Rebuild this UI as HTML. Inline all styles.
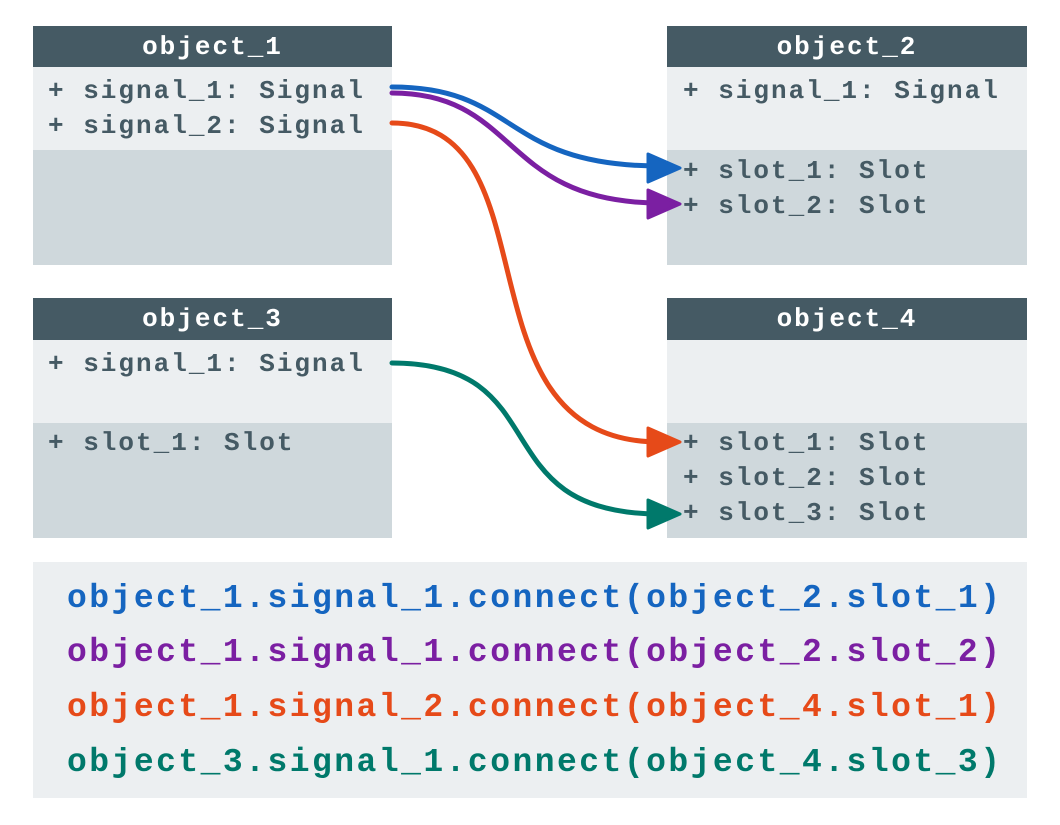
<!DOCTYPE html>
<html><head><meta charset="utf-8"><style>
body{margin:0;width:1060px;height:825px;background:#fff;position:relative;overflow:hidden;font-family:"Liberation Mono","Courier New",monospace;font-weight:bold}
.b{position:absolute}
.h{background:#455a64;color:#fff;text-align:center;font-size:26px;letter-spacing:2px;line-height:42px}
.l{background:#eceff1}.d{background:#cfd8dc}
.t{position:absolute;color:#455a64;font-size:26px;letter-spacing:2px;white-space:pre;line-height:35px}
.c{position:absolute;left:67px;font-size:33px;letter-spacing:2.47px;white-space:pre;line-height:40px}
</style></head><body>
<div class="b h" style="left:33px;top:26px;width:359px;height:41px">object_1</div>
<div class="b l" style="left:33px;top:67px;width:359px;height:83px"></div>
<div class="b d" style="left:33px;top:150px;width:359px;height:115px"></div>
<div class="t" style="left:48px;top:74px">+ signal_1: Signal
+ signal_2: Signal</div>

<div class="b h" style="left:667px;top:26px;width:360px;height:41px">object_2</div>
<div class="b l" style="left:667px;top:67px;width:360px;height:83px"></div>
<div class="b d" style="left:667px;top:150px;width:360px;height:115px"></div>
<div class="t" style="left:683px;top:74px">+ signal_1: Signal</div>
<div class="t" style="left:683px;top:154px">+ slot_1: Slot
+ slot_2: Slot</div>

<div class="b h" style="left:33px;top:298px;width:359px;height:42px">object_3</div>
<div class="b l" style="left:33px;top:340px;width:359px;height:83px"></div>
<div class="b d" style="left:33px;top:423px;width:359px;height:115px"></div>
<div class="t" style="left:48px;top:347px">+ signal_1: Signal</div>
<div class="t" style="left:48px;top:426px">+ slot_1: Slot</div>

<div class="b h" style="left:667px;top:298px;width:360px;height:42px">object_4</div>
<div class="b l" style="left:667px;top:340px;width:360px;height:83px"></div>
<div class="b d" style="left:667px;top:423px;width:360px;height:115px"></div>
<div class="t" style="left:683px;top:426px">+ slot_1: Slot
+ slot_2: Slot
+ slot_3: Slot</div>

<div class="b l" style="left:33px;top:562px;width:994px;height:236px"></div>
<div class="c" style="top:579px;color:#1565c0">object_1.signal_1.connect(object_2.slot_1)</div>
<div class="c" style="top:633px;color:#7b1fa2">object_1.signal_1.connect(object_2.slot_2)</div>
<div class="c" style="top:688px;color:#e64a19">object_1.signal_2.connect(object_4.slot_1)</div>
<div class="c" style="top:743px;color:#00796b">object_3.signal_1.connect(object_4.slot_3)</div>

<svg class="b" style="left:0;top:0" width="1060" height="825" fill="none" stroke-width="5" stroke-linecap="round">
<path d="M392 87 C520 87 500 166 660 166" stroke="#1565c0"/>
<polygon points="648,154 680,168 648,182" fill="#1565c0" stroke="#1565c0" stroke-linejoin="round" stroke-width="3"/>
<path d="M392 93 C520 93 500 203 660 203" stroke="#7b1fa2"/>
<polygon points="648,190 680,204 648,218" fill="#7b1fa2" stroke="#7b1fa2" stroke-linejoin="round" stroke-width="3"/>
<path d="M392 123 C560 123 450 442 660 442" stroke="#e64a19"/>
<polygon points="648,428 680,442 648,456" fill="#e64a19" stroke="#e64a19" stroke-linejoin="round" stroke-width="3"/>
<path d="M392 363 C560 363 480 514 660 514" stroke="#00796b"/>
<polygon points="648,500 680,514 648,528" fill="#00796b" stroke="#00796b" stroke-linejoin="round" stroke-width="3"/>
</svg>
</body></html>
